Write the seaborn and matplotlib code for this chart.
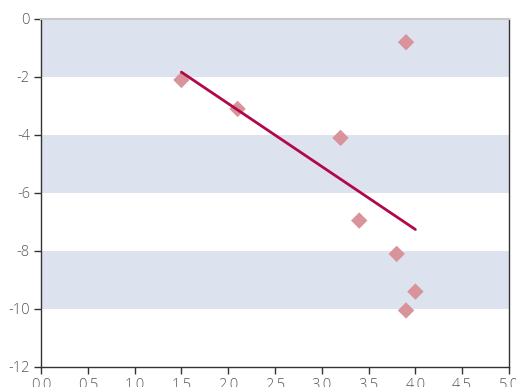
import numpy as np
import pandas as pd
import seaborn as sns
import matplotlib
matplotlib.use("Agg")
import matplotlib.pyplot as plt

# Observations
x_vals = [1.5, 2.1, 3.2, 3.9, 3.4, 3.8, 4.0, 3.9]
y_vals = [-2.1, -3.1, -4.1, -0.8, -6.95, -8.1, -9.4, -10.05]

x_ticks = [0.0, 0.5, 1.0, 1.5, 2.0, 2.5, 3.0, 3.5, 4.0, 4.5, 5.0]
y_ticks = [0, -2, -4, -6, -8, -10, -12]
band_ranges = [(-2, 0), (-6, -4), (-10, -8)]

df = pd.DataFrame({"x": x_vals, "y": y_vals})

sns.set_theme(style="white")
plt.rcParams["font.family"] = ["Open Sans", "DejaVu Sans"]
plt.rcParams["axes.unicode_minus"] = False

fig = plt.figure(figsize=(5.16, 3.87), dpi=100)
ax = fig.add_axes([41 / 516, 1 - 367 / 387, 468 / 516, 348 / 387])

for lo, hi in band_ranges:
    ax.axhspan(lo, hi, color="#dde3ee", lw=0, zorder=0)

sns.scatterplot(data=df, x="x", y="y", marker="D", s=70, color="#d9939a",
                edgecolor="none", ax=ax, zorder=3)
sns.regplot(data=df, x="x", y="y", scatter=False, ci=None, ax=ax,
            line_kws={"color": "#b0084a", "lw": 2, "zorder": 4})

ax.set_xlim(0, 5)
ax.set_ylim(-12, 0)
ax.set_xticks(x_ticks)
ax.set_xticklabels([f"{v:.1f}" for v in x_ticks])
ax.set_yticks(y_ticks)
ax.set_yticklabels([str(v) for v in y_ticks])
ax.set_xlabel("")
ax.set_ylabel("")

for side in ["left", "bottom", "right"]:
    ax.spines[side].set_color("#333333")
    ax.spines[side].set_linewidth(1)
ax.spines["top"].set_color("#c8c8c8")
ax.spines["top"].set_linewidth(1.5)

ax.tick_params(axis="both", which="major", length=5, width=1, color="#333333",
               labelsize=10.5, labelcolor="#555555", direction="out")
ax.tick_params(axis="x", bottom=True, pad=3)
ax.tick_params(axis="y", left=True, pad=3)
for lab in ax.get_xticklabels() + ax.get_yticklabels():
    lab.set_fontweight("light")

fig.savefig("out.png", dpi=100)
